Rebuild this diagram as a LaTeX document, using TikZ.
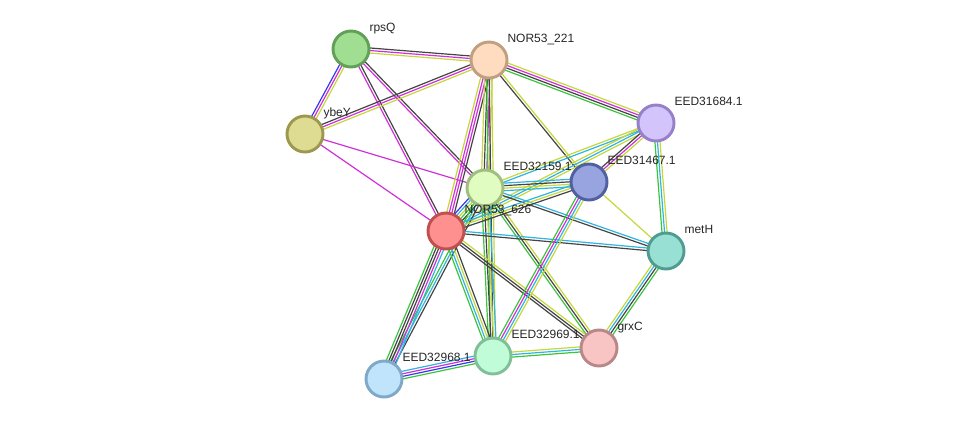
\documentclass[tikz,border=0pt]{standalone}
\usepackage{fontspec}
\setmainfont{Liberation Sans}
\usetikzlibrary{calc,backgrounds}

\definecolor{cg}{HTML}{3CC43C}
\definecolor{cb}{HTML}{3838F0}
\definecolor{ck}{HTML}{444444}
\definecolor{cm}{HTML}{D030D8}
\definecolor{cc}{HTML}{30B4E0}
\definecolor{cy}{HTML}{C4D83C}

\tikzset{
  prot/.style={circle,minimum size=27pt,inner sep=0pt,line width=2.2pt},
  lbl/.style={font=\fontsize{9}{10}\selectfont,text=black!85,inner sep=0pt,
              anchor=base west,xshift=3.4pt,yshift=3pt},
  link/.style={line width=0.9pt}
}

% one coloured line per evidence channel, side by side
\newcommand{\bundle}[3]{%
  \foreach \c [count=\i] in {#3} {\xdef\nb{\i}}%
  \foreach \c [count=\i] in {#3} {%
    \pgfmathsetmacro\off{(\i-(\nb+1)/2)*1.9}%
    \draw[link,draw=\c] ($(#1.center)!\off pt!90:(#2.center)$) --
      ($(#2.center)!\off pt!-90:(#1.center)$);}}

\begin{document}
\begin{tikzpicture}[x=0.75pt,y=-0.75pt]
  \useasboundingbox (0,0) rectangle (975,425);

  \node[prot,fill={rgb,255:red,160;green,222;blue,146},draw={rgb,255:red,98;green,160;blue,88},
        label={[lbl]45:rpsQ}] (rpsQ) at (351,49) {};
  \node[prot,fill={rgb,255:red,255;green,220;blue,192},draw={rgb,255:red,192;green,160;blue,128},
        label={[lbl]45:NOR53\_221}] (n221) at (489,60) {};
  \node[prot,fill={rgb,255:red,222;green,220;blue,146},draw={rgb,255:red,156;green,152;blue,80},
        label={[lbl]45:ybeY}] (ybeY) at (305,134) {};
  \node[prot,fill={rgb,255:red,212;green,196;blue,252},draw={rgb,255:red,150;green,128;blue,200},
        label={[lbl]45:EED31684.1}] (e31684) at (656,123) {};
  \node[prot,fill={rgb,255:red,224;green,252;blue,192},draw={rgb,255:red,160;green,190;blue,128},
        label={[lbl]45:EED32159.1}] (e32159) at (485,188) {};
  \node[prot,fill={rgb,255:red,152;green,164;blue,224},draw={rgb,255:red,80;green,96;blue,160},
        label={[lbl]45:EED31467.1}] (e31467) at (589,182) {};
  \node[prot,fill={rgb,255:red,255;green,144;blue,144},draw={rgb,255:red,192;green,80;blue,80},
        label={[lbl]45:NOR53\_626}] (n626) at (446,231) {};
  \node[prot,fill={rgb,255:red,152;green,224;blue,212},draw={rgb,255:red,80;green,156;blue,144},
        label={[lbl]45:metH}] (metH) at (666,251) {};
  \node[prot,fill={rgb,255:red,248;green,196;blue,196},draw={rgb,255:red,184;green,136;blue,136},
        label={[lbl]45:grxC}] (grxC) at (599,348) {};
  \node[prot,fill={rgb,255:red,192;green,252;blue,216},draw={rgb,255:red,128;green,192;blue,152},
        label={[lbl]45:EED32969.1}] (e32969) at (493,356) {};
  \node[prot,fill={rgb,255:red,192;green,228;blue,252},draw={rgb,255:red,128;green,168;blue,200},
        label={[lbl]45:EED32968.1}] (e32968) at (384,379) {};

  \begin{scope}[on background layer]
    \bundle{rpsQ}{n221}{cy,cm,ck}
    \bundle{rpsQ}{ybeY}{cb,cm,cy}
    \bundle{rpsQ}{n626}{cm,ck}
    \bundle{rpsQ}{e32159}{cm,ck}
    \bundle{ybeY}{n221}{cy,cm,ck}
    \bundle{ybeY}{n626}{cm}
    \bundle{ybeY}{e32159}{cm}
    \bundle{n221}{n626}{cy,cm,cm,ck}
    \bundle{n221}{e32159}{cy,ck,cm,cy}
    \bundle{n221}{e32969}{cg,ck,cy}
    \bundle{n221}{e31684}{cg,ck,cm,cy}
    \bundle{n221}{e31467}{ck,cy}
    \bundle{e31684}{e32159}{cy,cc}
    \bundle{e31684}{n626}{cy,cc,cy}
    \bundle{e31684}{e31467}{ck,cm,cy}
    \bundle{e31684}{metH}{cg,cc,cy}
    \bundle{e32159}{e31467}{cc,cy,ck,cc}
    \bundle{e32159}{n626}{cb,cc,cy,cg,ck}
    \bundle{e32159}{metH}{ck,cc}
    \bundle{e32159}{e32969}{cg,ck,cy,cc}
    \bundle{e32159}{grxC}{cg,ck,cy}
    \bundle{e32159}{e32968}{cg,cc,ck}
    \bundle{n626}{e31467}{ck,cy,cc}
    \bundle{n626}{metH}{ck,cc}
    \bundle{n626}{e32968}{cg,ck,ck,cm,cc}
    \bundle{n626}{e32969}{cg,cc,cy,ck}
    \bundle{n626}{grxC}{ck,ck,cy}
    \bundle{e31467}{e32969}{cg,cm,cc,cy}
    \bundle{e31467}{metH}{cy}
    \bundle{metH}{grxC}{cy,cc,ck,cg}
    \bundle{e32969}{grxC}{cg,cc,cy}
    \bundle{e32968}{e32969}{cg,cb,cm,cc}
  \end{scope}
\end{tikzpicture}
\end{document}
